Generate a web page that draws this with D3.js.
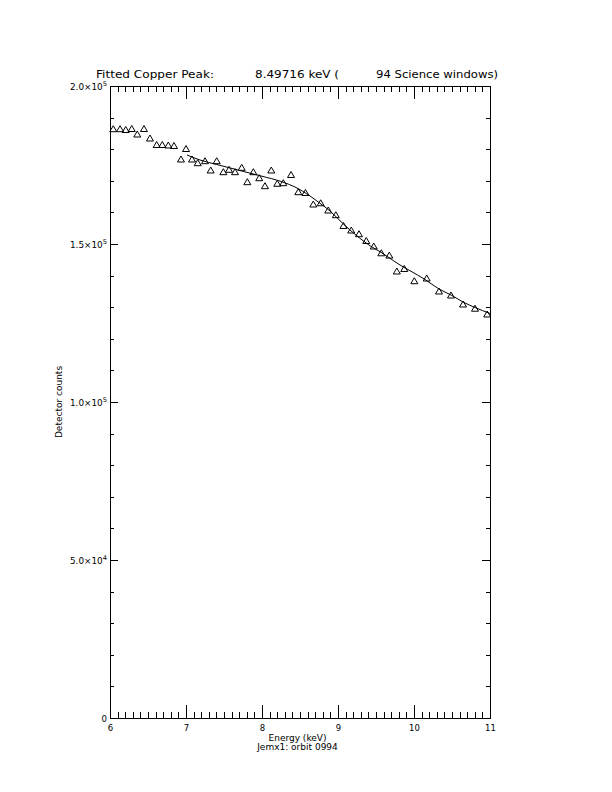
<!DOCTYPE html>
<html><head><meta charset="utf-8">
<script src="https://cdn.jsdelivr.net/npm/d3@7"></script>
<style>body{margin:0;background:#fff}svg{display:block}</style>
</head><body>
<script>
// ---- data ----
const energy = [6.043,6.132,6.207,6.286,6.359,6.447,6.526,6.614,6.688,6.767,6.842,6.934,7.000,7.079,7.154,7.250,7.325,7.404,7.491,7.566,7.645,7.733,7.807,7.886,7.964,8.039,8.122,8.201,8.280,8.382,8.478,8.572,8.675,8.772,8.872,8.971,9.072,9.174,9.276,9.372,9.470,9.570,9.675,9.774,9.872,10.004,10.167,10.329,10.487,10.645,10.803,10.963];
const counts = [186490,186490,186230,186550,184810,186550,183540,181490,181490,181330,181170,176900,180220,176900,175730,176360,173420,176360,172880,173640,172880,174270,169720,172880,170980,168450,173420,169210,169400,171990,166550,166300,162660,163040,160760,159270,155860,154430,153260,151110,149370,147220,146490,141460,142250,138390,139240,135130,133860,131010,129680,127850];
const fitEnergy = [7.013,7.184,7.404,7.733,7.987,8.259,8.434,8.632,8.763,8.895,9.026,9.158,9.289,9.421,9.553,9.684,9.816,9.947,10.145,10.329,10.487,10.645,10.803,11.0];
const fitCounts = [178170,176580,175160,173100,171520,169720,168040,165190,162880,160440,157380,154430,151800,149460,147560,145480,143350,141550,138770,135760,133860,131650,129900,128010];
const xTicks = [6,7,8,9,10,11];
const xTickLabels = ["6","7","8","9","10","11"];
const yTicks = [0,50000,100000,150000,200000];
const yTickMantissa = ["0","5.0\u00d710","1.0\u00d710","1.5\u00d710","2.0\u00d710"];
const yTickExponent = ["","4","5","5","5"];
const titleParts = ["Fitted Copper Peak:","8.49716 keV (","94 Science windows)"];
const xTitle = "Energy (keV)";
const xSubTitle = "Jemx1: orbit 0994";
const yTitle = "Detector counts";

const W = 612, H = 792;
const svg = d3.select("body").append("svg").attr("width", W).attr("height", H)
  .style("font-family", "'DejaVu Sans', sans-serif");

const x = d3.scaleLinear().domain([6, 11]).range([110, 490]);
const y = d3.scaleLinear().domain([0, 200000]).range([718, 86]);

// frame
svg.append("rect").attr("x", 110.5).attr("y", 86.5).attr("width", 380).attr("height", 632)
  .attr("fill", "none").attr("stroke", "#000").attr("stroke-width", 1).attr("shape-rendering", "crispEdges");

const xMinor = d3.range(60, 111).map(d => d / 10);
const yMinor = d3.range(0, 21).map(d => d * 10000);

function drawAxis(axis, tx, ty) {
  const g = svg.append("g").attr("transform", `translate(${tx},${ty})`).call(axis);
  g.select(".domain").remove();
  g.selectAll("line").attr("stroke", "#000").attr("shape-rendering", "crispEdges");
  g.selectAll("text").remove();
}
drawAxis(d3.axisBottom(x).tickValues(xMinor).tickSize(-6.3), 0, 718);
drawAxis(d3.axisBottom(x).tickValues(xTicks).tickSize(-12.6), 0, 718);
drawAxis(d3.axisTop(x).tickValues(xMinor).tickSize(-6.3), 0, 86);
drawAxis(d3.axisTop(x).tickValues(xTicks).tickSize(-12.6), 0, 86);
drawAxis(d3.axisLeft(y).tickValues(yMinor).tickSize(-3.8), 110, 0);
drawAxis(d3.axisLeft(y).tickValues(yTicks).tickSize(-7.6), 110, 0);
drawAxis(d3.axisRight(y).tickValues(yMinor).tickSize(-3.8), 490, 0);
drawAxis(d3.axisRight(y).tickValues(yTicks).tickSize(-7.6), 490, 0);

// x tick labels
svg.append("g").selectAll("text").data(xTicks).join("text")
  .attr("x", d => x(d) + 0.5).attr("y", 731).attr("text-anchor", "middle")
  .attr("font-size", 8.5).text((d, i) => xTickLabels[i]);

// y tick labels
const yl = svg.append("g").selectAll("text").data(yTicks).join("text")
  .attr("x", 107).attr("y", d => y(d) + 3.5).attr("text-anchor", "end").attr("font-size", 8.5)
  .attr("textLength", (d, i) => yTickExponent[i] ? 37 : null)
  .attr("lengthAdjust", "spacingAndGlyphs");
yl.append("tspan").text((d, i) => yTickMantissa[i]);
yl.append("tspan").attr("dy", -3.5).attr("font-size", 6.5).text((d, i) => yTickExponent[i]);

// titles
const titleX = [96, 255, 376], titleW = [118, 84, 122];
titleParts.forEach((t, i) => {
  svg.append("text").attr("x", titleX[i]).attr("y", 78).attr("font-size", 10.5)
    .attr("textLength", titleW[i]).attr("lengthAdjust", "spacingAndGlyphs").text(t);
});
svg.append("text").attr("x", 297.5).attr("y", 741).attr("text-anchor", "middle").attr("font-size", 9)
  .text(xTitle);
svg.append("text").attr("x", 297.5).attr("y", 749.5).attr("text-anchor", "middle").attr("font-size", 9)
  .text(xSubTitle);
svg.append("text").attr("transform", "translate(62,402) rotate(-90)").attr("text-anchor", "middle")
  .attr("font-size", 9).text(yTitle);

// fit line
const fitData = fitEnergy.map((e, i) => [e, fitCounts[i]]);
svg.append("path").datum(fitData)
  .attr("d", d3.line().x(d => x(d[0])).y(d => y(d[1])).curve(d3.curveMonotoneX))
  .attr("fill", "none").attr("stroke", "#000").attr("stroke-width", 1);

// triangle markers
const pts = energy.map((e, i) => [e, counts[i]]);
svg.append("g").selectAll("path").data(pts).join("path")
  .attr("d", d => {
    const cx = x(d[0]), cy = y(d[1]);
    return `M${cx - 3.5},${cy + 3}L${cx},${cy - 3}L${cx + 3.5},${cy + 3}Z`;
  })
  .attr("fill", "none").attr("stroke", "#000").attr("stroke-width", 1);
</script>
</body></html>
